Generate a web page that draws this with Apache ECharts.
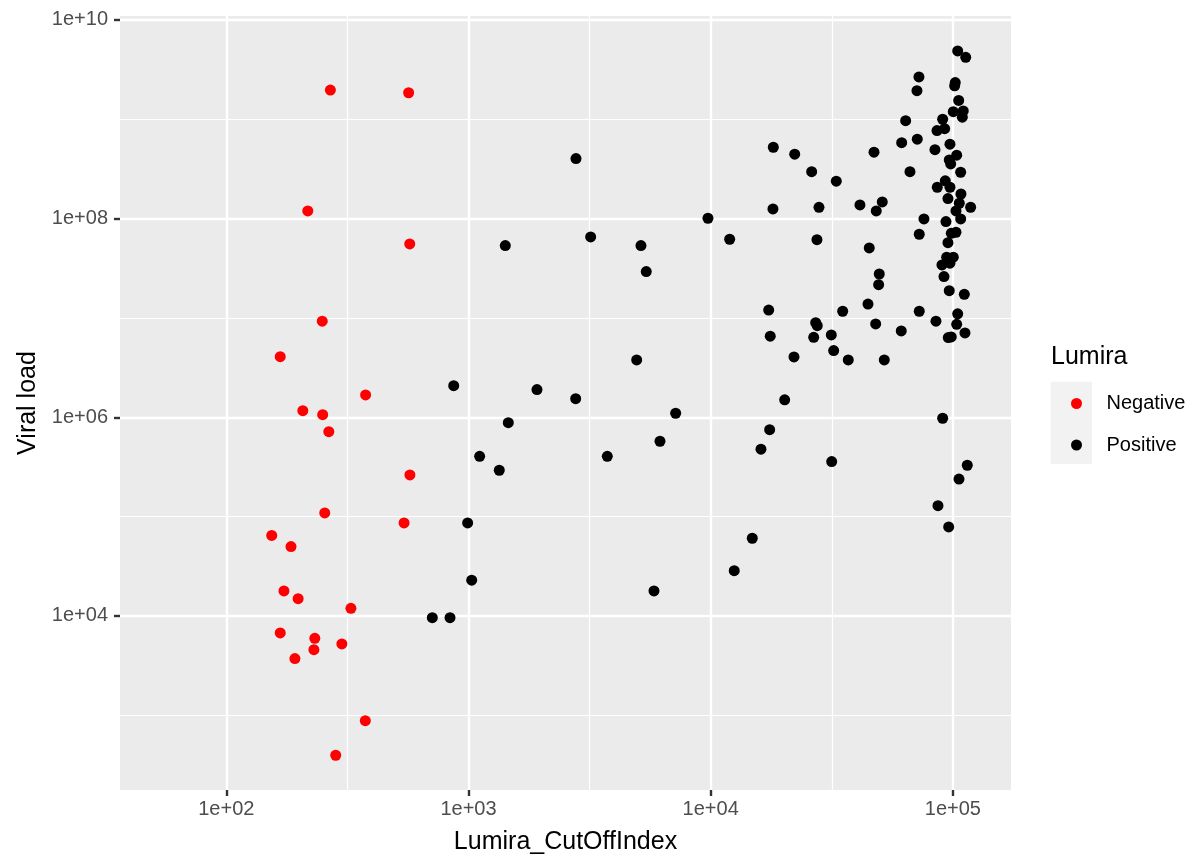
<!DOCTYPE html>
<html>
<head>
<meta charset="utf-8">
<script src="https://cdn.jsdelivr.net/npm/echarts@6/dist/echarts.min.js"></script>
<style>html,body{margin:0;padding:0;background:#fff}#c{width:1193px;height:857px}</style>
</head>
<body>
<div id="c"></div>
<script>
// ---- data (raw units) ----
const negCutOff = [269, 566, 217, 572, 249, 167, 207, 250, 265, 376, 573, 255, 542, 154, 185, 173, 198, 327, 167, 232, 300, 230, 192, 375, 283];
const negViral = [1.97e9, 1.85e9, 1.195e8, 5.56e7, 9.27e6, 4.08e6, 1.166e6, 1.063e6, 7.17e5, 1.68e6, 2.63e5, 1.089e5, 8.64e4, 6.46e4, 4.99e4, 1.785e4, 1.494e4, 1.195e4, 6740, 5960, 5225, 4580, 3720, 883, 396];

const posCutOff = [2779, 9745, 1419, 3195, 5154, 5420, 4948, 869, 1918, 2771,
  7169, 1460, 6176, 1112, 3742, 1340, 992, 1031, 709, 839,
  5833, 14850, 12510, 96100, 86800, 106000, 114700, 31600, 16130, 17520,
  20210, 90760, 49670, 49380, 91890, 96630, 111500, 44620, 17360, 35080,
  72650, 104700, 27140, 27550, 48000, 85150, 103700, 61220, 112200, 17620,
  26630, 31480, 95720, 98490, 32200, 22080, 36990, 52100, 104700, 113000,
  72440, 71080, 102300, 101700, 105700, 100400, 110400, 109400, 90760, 63840,
  86000, 92490, 61460, 71290, 18140, 22230, 47250, 84350, 97270, 103700,
  96630, 97930, 26120, 66510, 107700, 33010, 93030, 86220, 97270, 108000,
  95450, 51100, 41340, 106300, 118400, 18080, 28000, 48270, 103000, 75970,
  93650, 107700, 11980, 27470, 72650, 98490, 103000, 95450, 45160, 94280,
  100400, 90160, 97270];
const posViral = [4.02e8, 1.009e8, 5.35e7, 6.54e7, 5.35e7, 2.93e7, 3.78e6, 2.08e6, 1.90e6, 1.541e6,
  1.098e6, 8.83e5, 5.74e5, 4.05e5, 4.05e5, 2.93e5, 8.64e4, 2.29e4, 9610, 9610,
  1.785e4, 6.06e4, 2.86e4, 7.87e4, 1.29e5, 2.39e5, 3.29e5, 3.58e5, 4.77e5, 7.51e5,
  1.50e6, 9.78e5, 2.77e7, 2.16e7, 2.61e7, 1.88e7, 1.73e7, 1.38e7, 1.20e7, 1.168e7,
  1.168e7, 1.10e7, 8.97e6, 8.37e6, 8.70e6, 9.27e6, 8.64e6, 7.40e6, 7.07e6, 6.55e6,
  6.39e6, 6.74e6, 6.34e6, 6.44e6, 4.69e6, 4.05e6, 3.78e6, 3.78e6, 4.88e9, 4.21e9,
  2.67e9, 1.94e9, 2.34e9, 2.17e9, 1.55e9, 1.194e9, 1.214e9, 1.049e9, 1.001e9, 9.69e8,
  7.69e8, 8.05e8, 5.82e8, 6.30e8, 5.23e8, 4.45e8, 4.66e8, 4.95e8, 5.61e8, 4.35e8,
  3.90e8, 3.55e8, 2.97e8, 2.97e8, 2.93e8, 2.38e8, 2.40e8, 2.07e8, 2.07e8, 1.77e8,
  1.59e8, 1.472e8, 1.373e8, 1.428e8, 1.302e8, 1.252e8, 1.30e8, 1.195e8, 1.195e8, 9.93e7,
  9.33e7, 9.93e7, 6.20e7, 6.14e7, 6.96e7, 7.12e7, 7.29e7, 5.73e7, 5.07e7, 4.09e7,
  4.09e7, 3.42e7, 3.56e7];

const seriesNames = ['Negative', 'Positive'];

const xTickValues = [1e2, 1e3, 1e4, 1e5];
const xTickLabels = ['1e+02', '1e+03', '1e+04', '1e+05'];
const xMinorValues = [316.2, 3162, 31623];
const yTickValues = [1e4, 1e6, 1e8, 1e10];
const yTickLabels = ['1e+04', '1e+06', '1e+08', '1e+10'];
const yMinorValues = [1e3, 1e5, 1e7, 1e9];
const xLimits = [36.4, 173800];
const yLimits = [177, 1.096e10];

// ---- build ----
const lg = Math.log10;
function pts(xs, ys) { return xs.map((x, i) => [lg(x), lg(ys[i])]); }
function labelFor(values, labels) {
  return function (v) {
    const i = values.findIndex(t => Math.abs(lg(t) - v) < 1e-6);
    return i >= 0 ? labels[i] : '';
  };
}
const FONT = '"Liberation Sans", Arial, Helvetica, sans-serif';
const tickStyle = { show: true, length: 6, lineStyle: { color: '#333333', width: 2.4 } };

const chart = echarts.init(document.getElementById('c'), null, { renderer: 'canvas' });
chart.setOption({
  animation: false,
  backgroundColor: '#ffffff',
  textStyle: { fontFamily: FONT },
  grid: {
    left: 120, top: 16, width: 891, height: 774,
    show: true, backgroundColor: '#EBEBEB', borderWidth: 0,
    containLabel: false, outerBoundsMode: 'none'
  },
  xAxis: [
    {
      type: 'value', position: 'bottom',
      min: lg(xLimits[0]), max: lg(xLimits[1]),
      axisLine: { show: false },
      axisTick: Object.assign({}, tickStyle, { customValues: xTickValues.map(lg) }),
      axisLabel: {
        customValues: xTickValues.map(lg),
        formatter: labelFor(xTickValues, xTickLabels),
        color: '#4D4D4D', fontSize: 20, fontFamily: FONT, margin: 9
      },
      splitLine: { show: true, lineStyle: { color: '#ffffff', width: 2.4 } },
      name: 'Lumira_CutOffIndex', nameLocation: 'middle', nameGap: 40,
      nameTextStyle: { color: '#000000', fontSize: 25, fontFamily: FONT }
    },
    {
      type: 'value', position: 'top',
      min: lg(xLimits[0]), max: lg(xLimits[1]),
      axisLine: { show: false },
      axisTick: { show: false, customValues: xMinorValues.map(lg) },
      axisLabel: { show: false, customValues: xMinorValues.map(lg) },
      splitLine: { show: true, lineStyle: { color: '#ffffff', width: 1.2 } }
    }
  ],
  yAxis: [
    {
      type: 'value', position: 'left',
      min: lg(yLimits[0]), max: lg(yLimits[1]),
      axisLine: { show: false },
      axisTick: Object.assign({}, tickStyle, { customValues: yTickValues.map(lg) }),
      axisLabel: {
        customValues: yTickValues.map(lg),
        formatter: labelFor(yTickValues, yTickLabels),
        color: '#4D4D4D', fontSize: 20, fontFamily: FONT, margin: 12
      },
      splitLine: { show: true, lineStyle: { color: '#ffffff', width: 2.4 } },
      name: 'Viral load', nameLocation: 'middle', nameGap: 79,
      nameTextStyle: { color: '#000000', fontSize: 25, fontFamily: FONT }
    },
    {
      type: 'value', position: 'right',
      min: lg(yLimits[0]), max: lg(yLimits[1]),
      axisLine: { show: false },
      axisTick: { show: false, customValues: yMinorValues.map(lg) },
      axisLabel: { show: false, customValues: yMinorValues.map(lg) },
      splitLine: { show: true, lineStyle: { color: '#ffffff', width: 1.2 } }
    }
  ],
  legend: {
    orient: 'vertical', left: 1066, top: 388.5,
    itemWidth: 11, itemHeight: 11, itemGap: 21.5,
    icon: 'circle', selectedMode: false,
    textStyle: { fontSize: 20, color: '#000000', fontFamily: FONT, lineHeight: 20, padding: [0, 0, 0, 19.5] },
    data: seriesNames
  },
  graphic: [
    { type: 'rect', z: 0, shape: { x: 1050.7, y: 381.7, width: 41.3, height: 82.3 }, style: { fill: '#F2F2F2' }, silent: true },
    { type: 'text', z: 1, x: 1051, y: 357, style: { text: 'Lumira', fontSize: 25, fill: '#000000', fontFamily: FONT, verticalAlign: 'middle', align: 'left' }, silent: true }
  ],
  series: [
    {
      name: seriesNames[0], type: 'scatter', xAxisIndex: 0, yAxisIndex: 0,
      symbol: 'circle', symbolSize: 11,
      itemStyle: { color: '#FF0000', opacity: 1 },
      data: pts(negCutOff, negViral)
    },
    {
      name: seriesNames[1], type: 'scatter', xAxisIndex: 0, yAxisIndex: 0,
      symbol: 'circle', symbolSize: 11,
      itemStyle: { color: '#000000', opacity: 1 },
      data: pts(posCutOff, posViral)
    }
  ]
});
</script>
</body>
</html>
